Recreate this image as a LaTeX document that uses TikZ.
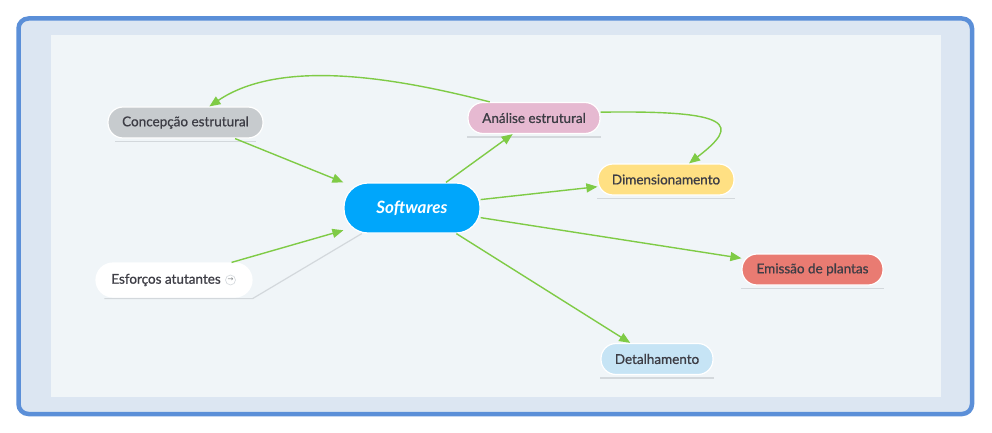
\documentclass[tikz,border=0pt]{standalone}
\usepackage{fontspec}
\setmainfont{Lato}
\newfontfamily\topicfont{Lato}[FakeBold=0.8]
\newfontfamily\iconfont{DejaVu Sans}
\usetikzlibrary{arrows.meta}
\definecolor{frameblue}{HTML}{5B8FD8}
\definecolor{framefill}{HTML}{DCE6F2}
\definecolor{panelfill}{HTML}{F0F5F8}
\definecolor{linkgreen}{HTML}{7FCB46}
\definecolor{txtgray}{HTML}{3D3D45}
\definecolor{basegray}{HTML}{D3D8DC}
\definecolor{softblue}{HTML}{00A6FB}
\definecolor{concgray}{HTML}{C7CBCE}
\definecolor{anapink}{HTML}{E6B9D1}
\definecolor{dimyellow}{HTML}{FFE083}
\definecolor{emired}{HTML}{E97B72}
\definecolor{detblue}{HTML}{C6E4F5}
\begin{document}
\begin{tikzpicture}[x=1pt,y=-1pt,
    topic/.style={draw=white,line width=1.2pt,rounded corners=15pt,
      minimum height=31pt,inner sep=0pt,text=txtgray,
      font=\topicfont\fontsize{13.5}{16}\selectfont},
    central/.style={draw=white,line width=1.2pt,rounded corners=24pt,
      minimum width=136pt,minimum height=50pt,inner sep=0pt,fill=softblue,
      text=white,font=\fontsize{17}{20}\selectfont\bfseries\itshape},
    link/.style={draw=linkgreen,line width=1.4pt,
      -{Triangle[length=11pt,width=9pt]}},
    base/.style={draw=basegray,line width=1.5pt}]
  \useasboundingbox (0,0) rectangle (992,433);
  \draw[frameblue,line width=4.5pt,fill=framefill,rounded corners=10pt]
    (18.5,18.5) rectangle (972,414);
  \fill[panelfill] (51,35) rectangle (941,397);
  \path
    (412,208) node[central] (soft){Softwares}
    (185.5,122.5) node[topic,fill=concgray,minimum width=155pt] (conc){Concepção estrutural}
    (534,118) node[topic,fill=anapink,minimum width=132pt] (ana){Análise estrutural}
    (666,179.5) node[topic,fill=dimyellow,minimum width=136pt] (dim){Dimensionamento}
    (812.5,269.5) node[topic,fill=emired,minimum width=141pt] (emi){Emissão de plantas}
    (657,359) node[topic,fill=detblue,minimum width=112pt] (det){Detalhamento}
    (174,280) node[topic,fill=white,minimum width=156pt,minimum height=34pt,
      rounded corners=17pt] (esf){Esforços atutantes\kern16pt}
    (230.5,280) node[circle,draw=basegray,line width=0.6pt,inner sep=0pt,
      minimum size=10pt,text=basegray!60!black,
      font=\iconfont\fontsize{7}{7}\selectfont] (esficon){→};
  % lines under the topics
  \draw[base] ([xshift=8pt,yshift=-3pt]conc.south west) -- ([xshift=-8pt,yshift=-3pt]conc.south east);
  \draw[base] ([yshift=-3pt]ana.south west) -- ([yshift=-3pt]ana.south east);
  \draw[base] ([yshift=-3pt]dim.south west) -- ([yshift=-3pt]dim.south east);
  \draw[base] ([yshift=-3pt]emi.south west) -- ([yshift=-3pt]emi.south east);
  \draw[base] ([yshift=-3pt]det.south west) -- ([yshift=-3pt]det.south east);
  \draw[base,line width=1.2pt] ([xshift=9pt,yshift=-1pt]esf.south west)
    -- ([yshift=-1pt]esf.south east) -- (soft.207);
  \begin{scope}[link]
    \draw (conc.-18) to (soft.north west);
    \draw (esf.17) to (soft.198);
    \draw (soft.37) to (ana.217);
    \draw (soft.7) to (dim.186);
    \draw (soft.-8) to (emi.171);
    \draw (soft.-30) to (det.149);
    \draw (ana.160) .. controls +(-86,-22) and +(74,-50) .. (conc.34);
    \draw (ana.5) .. controls +(134,-2) and +(51,-39) .. (dim.35);
  \end{scope}
\end{tikzpicture}
\end{document}
